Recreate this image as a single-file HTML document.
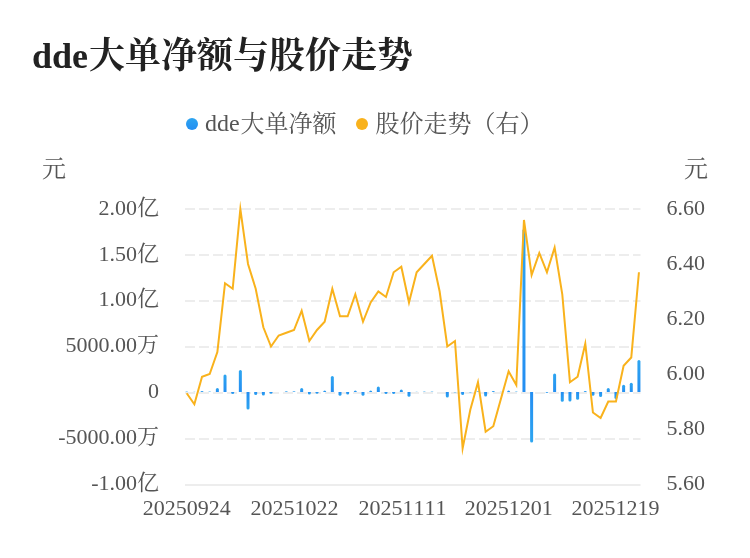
<!DOCTYPE html>
<html lang="zh"><head><meta charset="utf-8"><title>dde大单净额与股价走势</title>
<style>html,body{margin:0;padding:0;background:#fff;}body{width:750px;height:558px;overflow:hidden;font-family:"Liberation Serif",serif;}svg{display:block;will-change:transform;}</style>
</head><body>
<svg width="750" height="558" viewBox="0 0 750 558" font-family="'Liberation Serif', serif">
<defs><linearGradient id="gp" x1="0" y1="0" x2="0" y2="1"><stop offset="0" stop-color="#2da5f0"/><stop offset="1" stop-color="#248ef2"/></linearGradient><linearGradient id="gn" x1="0" y1="0" x2="0" y2="1"><stop offset="0" stop-color="#248ef2"/><stop offset="1" stop-color="#2da5f0"/></linearGradient></defs>
<text x="32 52.02 72.04" y="68" font-size="36" font-weight="bold" fill="#222222">dde</text>
<text x="89" y="68" font-size="36" font-weight="bold" fill="#222222" font-family="'Liberation Serif', 'Noto Serif CJK SC', serif">大单净额与股价走势</text>
<circle cx="192" cy="123.9" r="6" fill="url(#gp)"/>
<text x="205 217 229" y="131" font-size="24" fill="#555555">dde</text>
<text x="240.5" y="132" font-size="24" fill="#555555" font-family="'Liberation Serif', 'Noto Serif CJK SC', serif">大单净额</text>
<circle cx="362" cy="123.9" r="6" fill="#f9b21c"/>
<text x="375.5" y="132" font-size="24" fill="#555555" font-family="'Liberation Serif', 'Noto Serif CJK SC', serif">股价走势（右）</text>
<text x="42" y="177" font-size="24" fill="#555555" font-family="'Liberation Serif', 'Noto Serif CJK SC', serif">元</text>
<text x="684.1" y="177" font-size="24" fill="#555555" font-family="'Liberation Serif', 'Noto Serif CJK SC', serif">元</text>
<line x1="185" y1="209" x2="640.5" y2="209" stroke="#ededed" stroke-width="2" stroke-dasharray="10 4"/>
<line x1="185" y1="255" x2="640.5" y2="255" stroke="#ededed" stroke-width="2" stroke-dasharray="10 4"/>
<line x1="185" y1="301" x2="640.5" y2="301" stroke="#ededed" stroke-width="2" stroke-dasharray="10 4"/>
<line x1="185" y1="347" x2="640.5" y2="347" stroke="#ededed" stroke-width="2" stroke-dasharray="10 4"/>
<line x1="185" y1="393" x2="640.5" y2="393" stroke="#ededed" stroke-width="2" stroke-dasharray="10 4"/>
<line x1="185" y1="439" x2="640.5" y2="439" stroke="#ededed" stroke-width="2" stroke-dasharray="10 4"/>
<line x1="185" y1="485" x2="640.5" y2="485" stroke="#ededed" stroke-width="2"/>
<text x="98.5 109.5 115 126" y="215" font-size="22" fill="#555555">2.00</text>
<text x="137" y="215" font-size="22" fill="#555555" font-family="'Liberation Serif', 'Noto Serif CJK SC', serif">亿</text>
<text x="98.5 109.5 115 126" y="261" font-size="22" fill="#555555">1.50</text>
<text x="137" y="261" font-size="22" fill="#555555" font-family="'Liberation Serif', 'Noto Serif CJK SC', serif">亿</text>
<text x="98.5 109.5 115 126" y="306" font-size="22" fill="#555555">1.00</text>
<text x="137" y="306" font-size="22" fill="#555555" font-family="'Liberation Serif', 'Noto Serif CJK SC', serif">亿</text>
<text x="65.5 76.5 87.5 98.5 109.5 115 126" y="352" font-size="22" fill="#555555">5000.00</text>
<text x="137" y="352" font-size="22" fill="#555555" font-family="'Liberation Serif', 'Noto Serif CJK SC', serif">万</text>
<text x="148" y="398" font-size="22" fill="#555555">0</text>
<text x="148" y="398" font-size="22" fill="none">0</text>
<text x="58.17 65.5 76.5 87.5 98.5 109.5 115 126" y="444" font-size="22" fill="#555555">-5000.00</text>
<text x="137" y="444" font-size="22" fill="#555555" font-family="'Liberation Serif', 'Noto Serif CJK SC', serif">万</text>
<text x="91.17 98.5 109.5 115 126" y="490" font-size="22" fill="#555555">-1.00</text>
<text x="137" y="490" font-size="22" fill="#555555" font-family="'Liberation Serif', 'Noto Serif CJK SC', serif">亿</text>
<text x="666.4 677.4 682.9 693.9" y="215" font-size="22" fill="#555555">6.60</text>
<text x="666.4" y="215" font-size="22" fill="none">6.60</text>
<text x="666.4 677.4 682.9 693.9" y="270" font-size="22" fill="#555555">6.40</text>
<text x="666.4" y="270" font-size="22" fill="none">6.40</text>
<text x="666.4 677.4 682.9 693.9" y="325" font-size="22" fill="#555555">6.20</text>
<text x="666.4" y="325" font-size="22" fill="none">6.20</text>
<text x="666.4 677.4 682.9 693.9" y="380" font-size="22" fill="#555555">6.00</text>
<text x="666.4" y="380" font-size="22" fill="none">6.00</text>
<text x="666.4 677.4 682.9 693.9" y="435" font-size="22" fill="#555555">5.80</text>
<text x="666.4" y="435" font-size="22" fill="none">5.80</text>
<text x="666.4 677.4 682.9 693.9" y="490" font-size="22" fill="#555555">5.60</text>
<text x="666.4" y="490" font-size="22" fill="none">5.60</text>
<text x="142.7 153.7 164.7 175.7 186.7 197.7 208.7 219.7" y="515" font-size="22" fill="#555555">20250924</text>
<text x="142.7" y="515" font-size="22" fill="none">20250924</text>
<text x="250.51 261.51 272.51 283.51 294.51 305.51 316.51 327.51" y="515" font-size="22" fill="#555555">20251022</text>
<text x="250.51" y="515" font-size="22" fill="none">20251022</text>
<text x="358.62 369.62 380.62 391.62 402.62 413.62 424.62 435.62" y="515" font-size="22" fill="#555555">20251111</text>
<text x="358.62" y="515" font-size="22" fill="none">20251111</text>
<text x="464.63 475.63 486.63 497.63 508.63 519.63 530.63 541.63" y="515" font-size="22" fill="#555555">20251201</text>
<text x="464.63" y="515" font-size="22" fill="none">20251201</text>
<text x="571.54 582.54 593.54 604.54 615.54 626.54 637.54 648.54" y="515" font-size="22" fill="#555555">20251219</text>
<text x="571.54" y="515" font-size="22" fill="none">20251219</text>
<path d="M185.2 392.1L185.2 392.1Q185.2 391.6 186.7 391.6Q188.2 391.6 188.2 392.1L188.2 392.1Z" fill="url(#gp)"/>
<path d="M192.86 392.1L192.86 392.1Q192.86 391.8 194.36 391.8Q195.86 391.8 195.86 392.1L195.86 392.1Z" fill="url(#gp)"/>
<path d="M200.53 392.1L200.53 392.1Q200.53 391.1 202.03 391.1Q203.53 391.1 203.53 392.1L203.53 392.1Z" fill="url(#gp)"/>
<path d="M208.19 392.1L208.19 392.1Q208.19 391.4 209.69 391.4Q211.19 391.4 211.19 392.1L211.19 392.1Z" fill="url(#gp)"/>
<path d="M215.86 392.1L215.86 389.4Q215.86 387.9 217.36 387.9Q218.86 387.9 218.86 389.4L218.86 392.1Z" fill="url(#gp)"/>
<path d="M223.52 392.1L223.52 376.1Q223.52 374.6 225.02 374.6Q226.52 374.6 226.52 376.1L226.52 392.1Z" fill="url(#gp)"/>
<path d="M231.19 392.1L231.19 392.6Q231.19 394.1 232.69 394.1Q234.19 394.1 234.19 392.6L234.19 392.1Z" fill="url(#gn)"/>
<path d="M238.85 392.1L238.85 371.4Q238.85 369.9 240.35 369.9Q241.85 369.9 241.85 371.4L241.85 392.1Z" fill="url(#gp)"/>
<path d="M246.52 392.1L246.52 408.1Q246.52 409.6 248.02 409.6Q249.52 409.6 249.52 408.1L249.52 392.1Z" fill="url(#gn)"/>
<path d="M254.19 392.1L254.19 393.6Q254.19 395.1 255.69 395.1Q257.19 395.1 257.19 393.6L257.19 392.1Z" fill="url(#gn)"/>
<path d="M261.85 392.1L261.85 394.1Q261.85 395.6 263.35 395.6Q264.85 395.6 264.85 394.1L264.85 392.1Z" fill="url(#gn)"/>
<path d="M269.51 392.1L269.51 392.2Q269.51 393.7 271.01 393.7Q272.51 393.7 272.51 392.2L272.51 392.1Z" fill="url(#gn)"/>
<path d="M284.84 392.1L284.84 392.1Q284.84 391.2 286.34 391.2Q287.84 391.2 287.84 392.1L287.84 392.1Z" fill="url(#gp)"/>
<path d="M292.51 392.1L292.51 392.1Q292.51 391.2 294.01 391.2Q295.51 391.2 295.51 392.1L295.51 392.1Z" fill="url(#gp)"/>
<path d="M300.17 392.1L300.17 389.6Q300.17 388.1 301.67 388.1Q303.17 388.1 303.17 389.6L303.17 392.1Z" fill="url(#gp)"/>
<path d="M307.84 392.1L307.84 392.9Q307.84 394.4 309.34 394.4Q310.84 394.4 310.84 392.9L310.84 392.1Z" fill="url(#gn)"/>
<path d="M315.5 392.1L315.5 392.3Q315.5 393.8 317 393.8Q318.5 393.8 318.5 392.3L318.5 392.1Z" fill="url(#gn)"/>
<path d="M323.17 392.1L323.17 391.9Q323.17 390.4 324.67 390.4Q326.17 390.4 326.17 391.9L326.17 392.1Z" fill="url(#gp)"/>
<path d="M330.83 392.1L330.83 377.6Q330.83 376.1 332.33 376.1Q333.83 376.1 333.83 377.6L333.83 392.1Z" fill="url(#gp)"/>
<path d="M338.5 392.1L338.5 394.2Q338.5 395.7 340 395.7Q341.5 395.7 341.5 394.2L341.5 392.1Z" fill="url(#gn)"/>
<path d="M346.16 392.1L346.16 393Q346.16 394.5 347.66 394.5Q349.16 394.5 349.16 393L349.16 392.1Z" fill="url(#gn)"/>
<path d="M353.83 392.1L353.83 391.9Q353.83 390.4 355.33 390.4Q356.83 390.4 356.83 391.9L356.83 392.1Z" fill="url(#gp)"/>
<path d="M361.5 392.1L361.5 394.2Q361.5 395.7 363 395.7Q364.5 395.7 364.5 394.2L364.5 392.1Z" fill="url(#gn)"/>
<path d="M369.16 392.1L369.16 392Q369.16 390.5 370.66 390.5Q372.16 390.5 372.16 392L372.16 392.1Z" fill="url(#gp)"/>
<path d="M376.82 392.1L376.82 387.9Q376.82 386.4 378.32 386.4Q379.82 386.4 379.82 387.9L379.82 392.1Z" fill="url(#gp)"/>
<path d="M384.49 392.1L384.49 392.6Q384.49 394.1 385.99 394.1Q387.49 394.1 387.49 392.6L387.49 392.1Z" fill="url(#gn)"/>
<path d="M392.15 392.1L392.15 392.6Q392.15 394.1 393.65 394.1Q395.15 394.1 395.15 392.6L395.15 392.1Z" fill="url(#gn)"/>
<path d="M399.82 392.1L399.82 390.9Q399.82 389.4 401.32 389.4Q402.82 389.4 402.82 390.9L402.82 392.1Z" fill="url(#gp)"/>
<path d="M407.49 392.1L407.49 395.3Q407.49 396.8 408.99 396.8Q410.49 396.8 410.49 395.3L410.49 392.1Z" fill="url(#gn)"/>
<path d="M415.15 392.1L415.15 392.1Q415.15 391.8 416.65 391.8Q418.15 391.8 418.15 392.1L418.15 392.1Z" fill="url(#gp)"/>
<path d="M422.81 392.1L422.81 392.1Q422.81 391.5 424.31 391.5Q425.81 391.5 425.81 392.1L425.81 392.1Z" fill="url(#gp)"/>
<path d="M430.48 392.1L430.48 392.1Q430.48 391.5 431.98 391.5Q433.48 391.5 433.48 392.1L433.48 392.1Z" fill="url(#gp)"/>
<path d="M438.14 392.1L438.14 392.1Q438.14 391.9 439.64 391.9Q441.14 391.9 441.14 392.1L441.14 392.1Z" fill="url(#gp)"/>
<path d="M445.81 392.1L445.81 395.9Q445.81 397.4 447.31 397.4Q448.81 397.4 448.81 395.9L448.81 392.1Z" fill="url(#gn)"/>
<path d="M453.47 392.1L453.47 392.1Q453.47 392.4 454.97 392.4Q456.47 392.4 456.47 392.1L456.47 392.1Z" fill="url(#gn)"/>
<path d="M461.14 392.1L461.14 393.5Q461.14 395 462.64 395Q464.14 395 464.14 393.5L464.14 392.1Z" fill="url(#gn)"/>
<path d="M468.81 392.1L468.81 392.1Q468.81 392.5 470.31 392.5Q471.81 392.5 471.81 392.1L471.81 392.1Z" fill="url(#gn)"/>
<path d="M476.47 392.1L476.47 392.1Q476.47 391.3 477.97 391.3Q479.47 391.3 479.47 392.1L479.47 392.1Z" fill="url(#gp)"/>
<path d="M484.13 392.1L484.13 394.9Q484.13 396.4 485.63 396.4Q487.13 396.4 487.13 394.9L487.13 392.1Z" fill="url(#gn)"/>
<path d="M491.8 392.1L491.8 392.1Q491.8 391.1 493.3 391.1Q494.8 391.1 494.8 392.1L494.8 392.1Z" fill="url(#gp)"/>
<path d="M499.46 392.1L499.46 392.1Q499.46 391.7 500.96 391.7Q502.46 391.7 502.46 392.1L502.46 392.1Z" fill="url(#gp)"/>
<path d="M507.13 392.1L507.13 391.9Q507.13 390.4 508.63 390.4Q510.13 390.4 510.13 391.9L510.13 392.1Z" fill="url(#gp)"/>
<path d="M514.8 392.1L514.8 392.1Q514.8 391.6 516.3 391.6Q517.8 391.6 517.8 392.1L517.8 392.1Z" fill="url(#gp)"/>
<path d="M522.46 392.1L522.46 230.6Q522.46 229.1 523.96 229.1Q525.46 229.1 525.46 230.6L525.46 392.1Z" fill="url(#gp)"/>
<path d="M530.12 392.1L530.12 441.1Q530.12 442.6 531.62 442.6Q533.12 442.6 533.12 441.1L533.12 392.1Z" fill="url(#gn)"/>
<path d="M545.45 392.1L545.45 392.1Q545.45 392.9 546.95 392.9Q548.45 392.9 548.45 392.1L548.45 392.1Z" fill="url(#gn)"/>
<path d="M553.12 392.1L553.12 375.1Q553.12 373.6 554.62 373.6Q556.12 373.6 556.12 375.1L556.12 392.1Z" fill="url(#gp)"/>
<path d="M560.78 392.1L560.78 400.3Q560.78 401.8 562.28 401.8Q563.78 401.8 563.78 400.3L563.78 392.1Z" fill="url(#gn)"/>
<path d="M568.45 392.1L568.45 400Q568.45 401.5 569.95 401.5Q571.45 401.5 571.45 400L571.45 392.1Z" fill="url(#gn)"/>
<path d="M576.12 392.1L576.12 398.3Q576.12 399.8 577.62 399.8Q579.12 399.8 579.12 398.3L579.12 392.1Z" fill="url(#gn)"/>
<path d="M583.78 392.1L583.78 392.1Q583.78 391.1 585.28 391.1Q586.78 391.1 586.78 392.1L586.78 392.1Z" fill="url(#gp)"/>
<path d="M591.44 392.1L591.44 394.3Q591.44 395.8 592.94 395.8Q594.44 395.8 594.44 394.3L594.44 392.1Z" fill="url(#gn)"/>
<path d="M599.11 392.1L599.11 395.4Q599.11 396.9 600.61 396.9Q602.11 396.9 602.11 395.4L602.11 392.1Z" fill="url(#gn)"/>
<path d="M606.77 392.1L606.77 389.6Q606.77 388.1 608.27 388.1Q609.77 388.1 609.77 389.6L609.77 392.1Z" fill="url(#gp)"/>
<path d="M614.44 392.1L614.44 397.6Q614.44 399.1 615.94 399.1Q617.44 399.1 617.44 397.6L617.44 392.1Z" fill="url(#gn)"/>
<path d="M622.11 392.1L622.11 386.3Q622.11 384.8 623.61 384.8Q625.11 384.8 625.11 386.3L625.11 392.1Z" fill="url(#gp)"/>
<path d="M629.77 392.1L629.77 384.2Q629.77 382.7 631.27 382.7Q632.77 382.7 632.77 384.2L632.77 392.1Z" fill="url(#gp)"/>
<path d="M637.43 392.1L637.43 361.6Q637.43 360.1 638.93 360.1Q640.43 360.1 640.43 361.6L640.43 392.1Z" fill="url(#gp)"/>
<polyline points="186.7,393.25 194.36,404.25 202.03,376.75 209.69,374 217.36,352 225.02,283.25 232.69,288.75 240.35,209 248.02,264 255.69,288.75 263.35,327.25 271.01,346.5 278.68,335.5 286.34,332.75 294.01,330 301.67,310.75 309.34,341 317,330 324.67,321.75 332.33,288.75 340,316.25 347.66,316.25 355.33,294.25 363,321.75 370.66,302.5 378.32,291.5 385.99,297 393.65,272.25 401.32,266.75 408.99,302.5 416.65,272.25 424.31,264 431.98,255.75 439.64,291.5 447.31,346.5 454.97,341 462.64,448.25 470.31,409.75 477.97,382.25 485.63,431.75 493.3,426.25 500.96,398.75 508.63,371.25 516.3,385 523.96,220 531.62,275 539.29,253 546.95,272.25 554.62,247.5 562.28,294.25 569.95,382.25 577.62,376.75 585.28,343.75 592.94,412.5 600.61,418 608.27,401.5 615.94,401.5 623.61,365.75 631.27,357.5 638.93,272.25" fill="none" stroke="#f9b21c" stroke-width="2" stroke-linejoin="miter" stroke-miterlimit="10"/>
</svg>
</body></html>
